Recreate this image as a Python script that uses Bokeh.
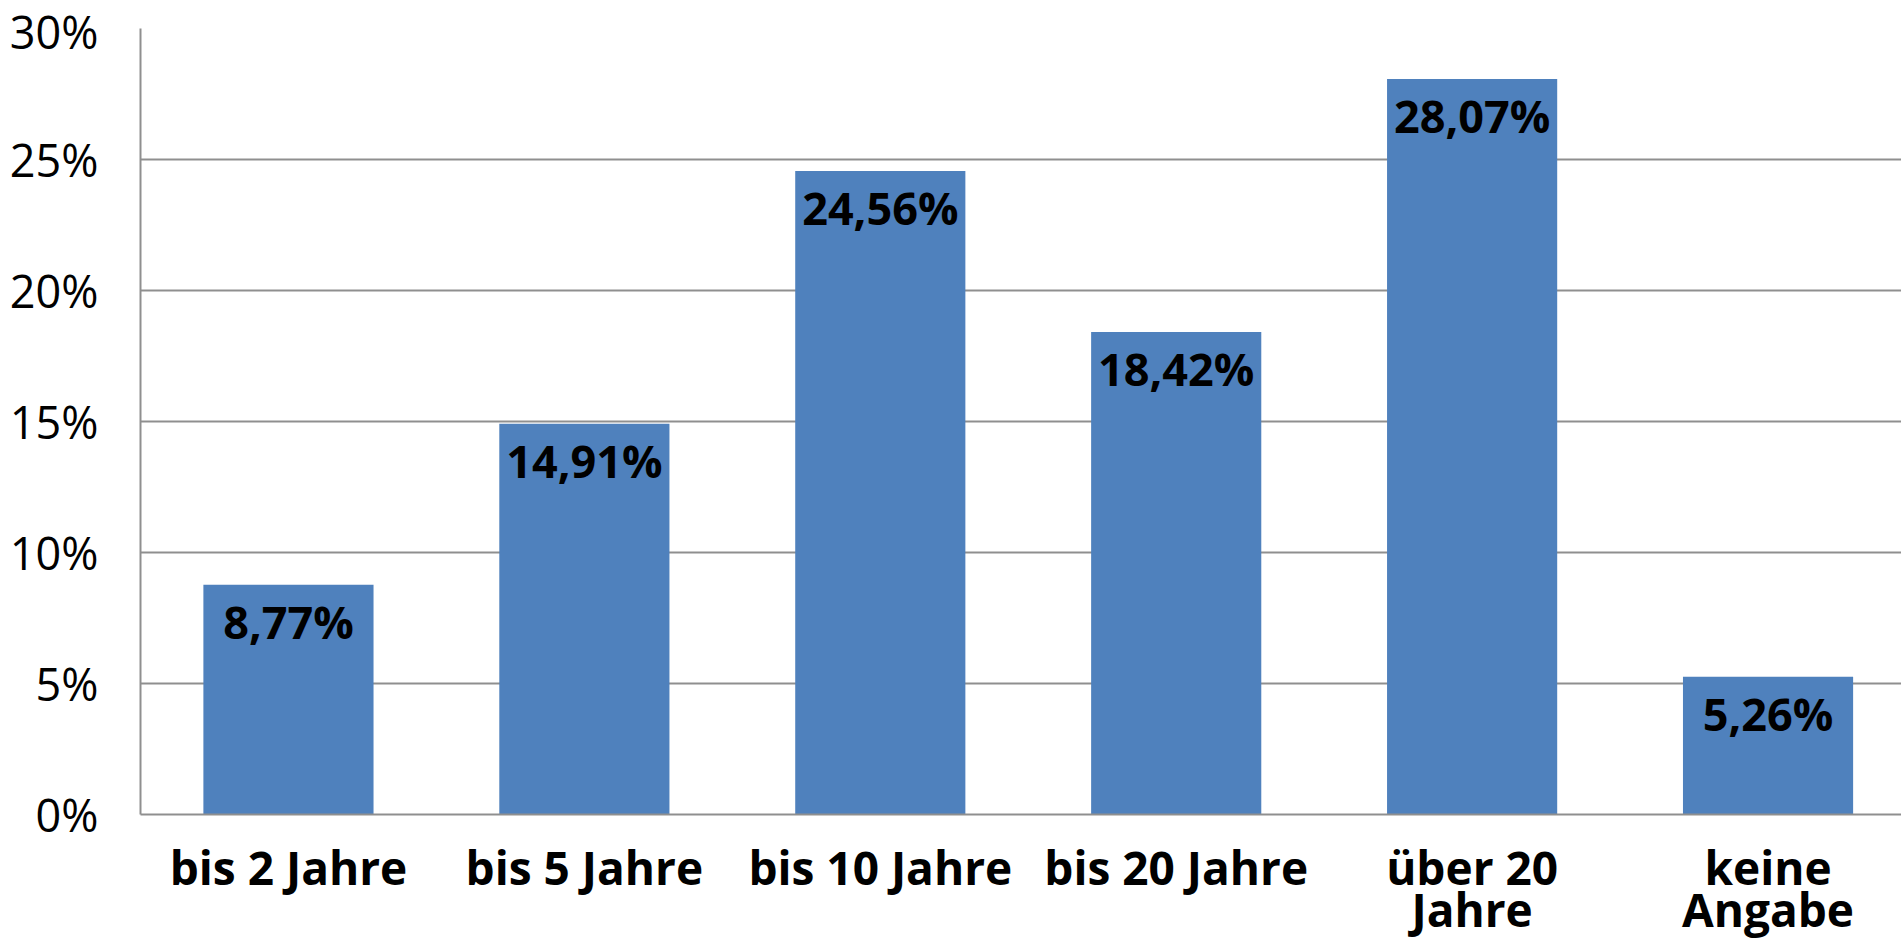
from bokeh.plotting import figure
from bokeh.models import ColumnDataSource, Range1d, FixedTicker
from bokeh.core.properties import value
from bokeh.embed import file_html
from bokeh.resources import INLINE

categories = ["bis 2 Jahre", "bis 5 Jahre", "bis 10 Jahre", "bis 20 Jahre", "über 20\nJahre", "keine\nAngabe"]
shares = [8.77, 14.91, 24.56, 18.42, 28.07, 5.26]
y_ticks = [0, 5, 10, 15, 20, 25, 30]
y_tick_labels = ["0%", "5%", "10%", "15%", "20%", "25%", "30%"]

xs = [i + 0.5 for i in range(len(categories))]
labels = [f"{v:.2f}".replace(".", ",") + "%" for v in shares]
src = ColumnDataSource(dict(x=xs, top=shares, label=labels))

p = figure(width=None, height=None, frame_width=1761, frame_height=786,
           output_backend="svg", toolbar_location=None,
           x_range=Range1d(0, 5.951), y_range=Range1d(0, 30),
           min_border_left=140, min_border_right=0, min_border_top=28, min_border_bottom=0)
p.outline_line_color = None
p.background_fill_color = "white"
p.border_fill_color = "white"

p.vbar(x="x", top="top", bottom=0, width=0.575, source=src, fill_color="#4F81BD", line_color=None)
p.text(x="x", y="top", text="label", source=src, text_align="center", text_baseline="top",
       y_offset=6, text_font=value("Open Sans"), text_font_style="bold", text_font_size="45px",
       text_color="black")

# y axis
p.yaxis.ticker = FixedTicker(ticks=y_ticks)
p.yaxis.major_label_overrides = {t: l for t, l in zip(y_ticks, y_tick_labels)}
p.yaxis.major_label_text_font = "Open Sans"
p.yaxis.major_label_text_font_size = "45px"
p.yaxis.major_label_text_color = "black"
p.yaxis.major_tick_line_color = None
p.yaxis.minor_tick_line_color = None
p.yaxis.major_tick_out = 0
p.yaxis.major_tick_in = 0
p.yaxis.major_label_standoff = 42
p.yaxis.axis_line_color = "#8f8f8f"
p.yaxis.axis_line_width = 2

# x axis
p.xaxis.ticker = FixedTicker(ticks=xs)
p.xaxis.major_label_overrides = {x: c for x, c in zip(xs, categories)}
p.xaxis.major_label_text_font = "Open Sans"
p.xaxis.major_label_text_font_style = "bold"
p.xaxis.major_label_text_font_size = "46px"
p.xaxis.major_label_text_line_height = 0.69
p.xaxis.major_label_text_color = "black"
p.xaxis.major_tick_line_color = None
p.xaxis.minor_tick_line_color = None
p.xaxis.major_tick_out = 0
p.xaxis.major_tick_in = 0
p.xaxis.major_label_standoff = 21
p.xaxis.axis_line_color = "#8f8f8f"
p.xaxis.axis_line_width = 2

p.xgrid.grid_line_color = None
p.ygrid.ticker = FixedTicker(ticks=y_ticks)
p.ygrid.grid_line_color = "#8f8f8f"
p.ygrid.grid_line_width = 2

open("out.html", "w").write(file_html(p, INLINE))
